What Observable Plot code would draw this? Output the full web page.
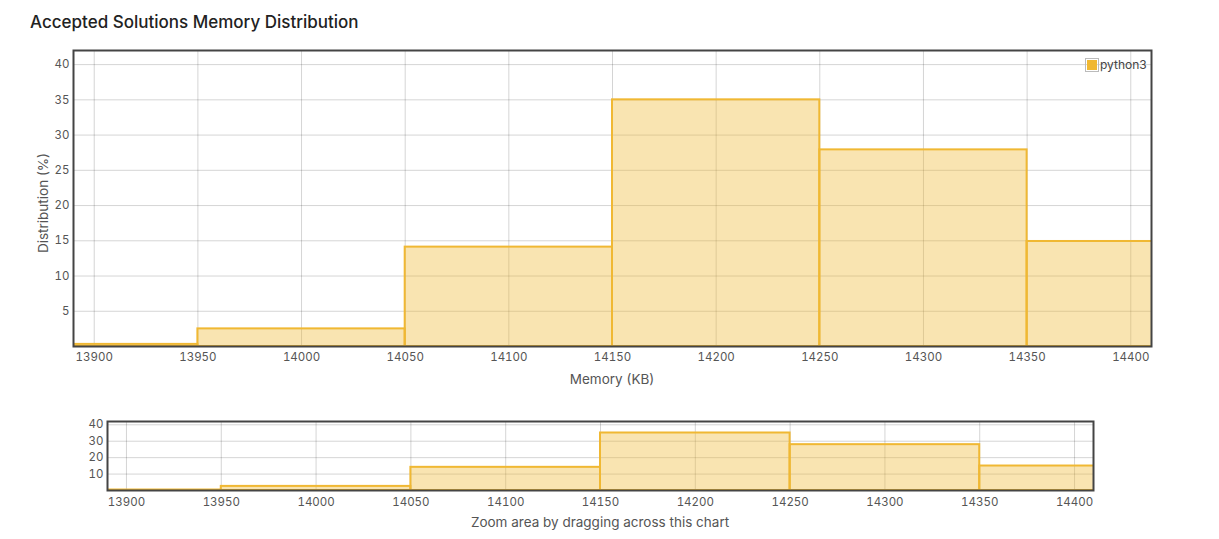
<!DOCTYPE html>
<html>
<head>
<meta charset="utf-8">
<script src="https://cdn.jsdelivr.net/npm/d3@7"></script>
<script src="https://cdn.jsdelivr.net/npm/@observablehq/plot@0.6"></script>
<style>
  body { margin: 0; background: #fff; font-family: Inter, "Liberation Sans", Arial, sans-serif; }
  #wrap { position: relative; width: 1219px; height: 539px; overflow: hidden; }
  #title { position: absolute; left: 30px; top: 12px; font-size: 17px; font-weight: 500; color: #222; white-space: nowrap; }
  #main { position: absolute; left: 0; top: 40px; }
  #mini { position: absolute; left: 0; top: 410px; }
  .axis-title { position: absolute; font-size: 13.5px; color: #555; white-space: nowrap; }
  #xlabel { left: 612px; top: 371px; transform: translateX(-50%); }
  #ylabel { left: 43px; top: 203px; transform: translate(-50%, -50%) rotate(-90deg); }
  #caption { left: 600px; top: 514px; transform: translateX(-50%); }
  #legend { position: absolute; left: 1085px; top: 57px; display: flex; align-items: center; font-size: 12px; color: #444; }
  #legend .sw { width: 10px; height: 10px; border: 1px solid #bbb; padding: 1px; margin-right: 1px; }
  #legend .sw div { width: 10px; height: 10px; background: #f0b833; }
</style>
</head>
<body>
<div id="wrap">
  <div id="title">Accepted Solutions Memory Distribution</div>
  <div id="main"></div>
  <div id="mini"></div>
  <div id="legend"><div class="sw"><div></div></div><span id="legendText"></span></div>
  <div class="axis-title" id="xlabel">Memory (KB)</div>
  <div class="axis-title" id="ylabel">Distribution (%)</div>
  <div class="axis-title" id="caption">Zoom area by dragging across this chart</div>
</div>
<script>
// ---- data ----
const seriesName = "python3";
const binStarts = [13850, 13950, 14050, 14150, 14250, 14350];
const binEnds   = [13950, 14050, 14150, 14250, 14350, 14450];
const distribution = [0.3, 2.5, 14.1, 35.0, 27.9, 14.9];
const xTicks = [13900, 13950, 14000, 14050, 14100, 14150, 14200, 14250, 14300, 14350, 14400];
const yTicksMain = [5, 10, 15, 20, 25, 30, 35, 40];
const yTicksMini = [10, 20, 30, 40];

const table = binStarts.map((s, i) => ({start: s, end: binEnds[i], value: distribution[i]}));
const xDomain = [13890, 14410];
const yDomain = [0, 42];
const barFill = "#f0b833";
const barStroke = "#f0b833";
const fmt = d => String(d);

document.getElementById("legendText").textContent = seriesName;

function chart({height, marginTop, marginBottom, marginLeft, marginRight, yTicks, xPad, yPad}) {
  return Plot.plot({
    width: 1219,
    height,
    marginTop, marginBottom, marginLeft, marginRight,
    style: {fontFamily: "Inter, Liberation Sans, Arial, sans-serif", fontSize: "11.5px", color: "#555", background: "#fff"},
    x: {domain: xDomain},
    y: {domain: yDomain},
    marks: [
      Plot.gridX(xTicks, {stroke: "#000", strokeOpacity: 0.17}),
      Plot.gridY(yTicks, {stroke: "#000", strokeOpacity: 0.17}),
      Plot.rectY(table, {x1: "start", x2: "end", y: "value", fill: barFill, fillOpacity: 0.38, stroke: barStroke, strokeWidth: 2, clip: true}),
      Plot.axisX({ticks: xTicks, tickSize: 0, tickPadding: xPad, tickFormat: fmt, label: null, fill: "#555"}),
      Plot.axisY({ticks: yTicks, tickSize: 0, tickPadding: yPad, tickFormat: fmt, label: null, fill: "#555"}),
      Plot.frame({stroke: "#444", strokeWidth: 2})
    ]
  });
}

document.getElementById("main").append(chart({
  height: 360, marginTop: 10, marginBottom: 54, marginLeft: 73, marginRight: 68,
  yTicks: yTicksMain, xPad: 6, yPad: 4
}));
document.getElementById("mini").append(chart({
  height: 100, marginTop: 11, marginBottom: 20, marginLeft: 107, marginRight: 126,
  yTicks: yTicksMini, xPad: 7, yPad: 4
}));
</script>
</body>
</html>
